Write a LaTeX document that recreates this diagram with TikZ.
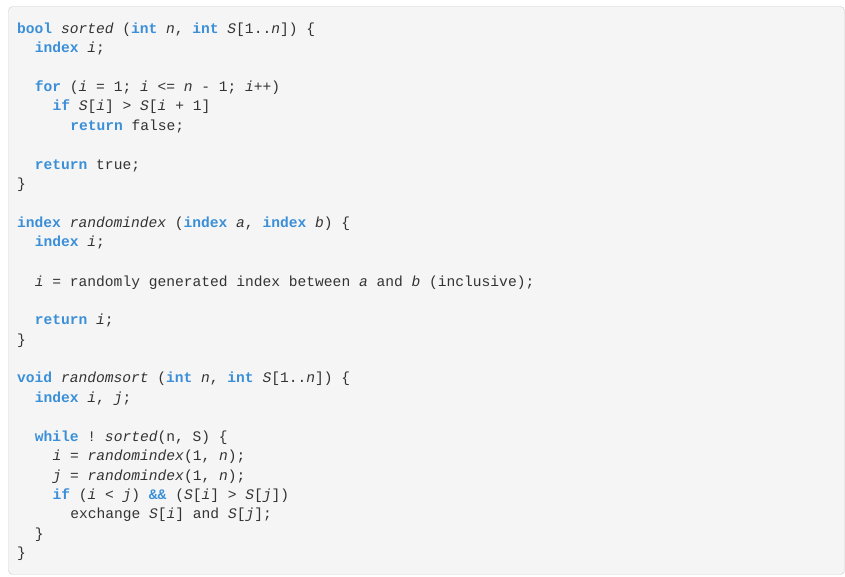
\documentclass[tikz,border=0pt]{standalone}
\usepackage{fontspec}
\setmonofont{Liberation Mono}
\definecolor{kwblue}{HTML}{3A8FD8}
\definecolor{codefg}{HTML}{333333}
\definecolor{boxbg}{HTML}{F5F5F5}
\definecolor{boxline}{HTML}{CCCCCC}
\newcommand{\kw}[1]{\textcolor{kwblue}{\bfseries #1}}
\newcommand{\vr}[1]{\textit{#1}}
\begin{document}
\begin{tikzpicture}[x=1pt,y=1pt,
  codeline/.style={anchor=base west, inner sep=0pt, text=codefg, font=\fontsize{14.6}{17}\ttfamily}]
\useasboundingbox (0,0) rectangle (845,577);
\draw[boxline, fill=boxbg, rounded corners=4pt] (8.5,2.5) rectangle (844.5,570.5);
\def\cw{8.85}
\newcommand{\cl}[4]{\node[codeline] (#1) at (17+#2*\cw, 577-#3-5) {#4};}
\cl{l1}{0}{29}{\kw{bool} \vr{sorted} (\kw{int} \vr{n}, \kw{int} \vr{S}[1..\vr{n}]) \{}
\cl{l2}{2}{48}{\kw{index} \vr{i};}
\cl{l4}{2}{87}{\kw{for} (\vr{i} = 1; \vr{i} <= \vr{n} - 1; \vr{i}++)}
\cl{l5}{4}{106}{\kw{if} \vr{S}[\vr{i}] > \vr{S}[\vr{i} + 1]}
\cl{l6}{6}{126}{\kw{return} false;}
\cl{l8}{2}{165}{\kw{return} true;}
\cl{l9}{0}{184}{\}}
\cl{l11}{0}{223}{\kw{index} \vr{randomindex} (\kw{index} \vr{a}, \kw{index} \vr{b}) \{}
\cl{l12}{2}{242}{\kw{index} \vr{i};}
\cl{l14}{2}{282}{\vr{i} = randomly generated index between \vr{a} and \vr{b} (inclusive);}
\cl{l16}{2}{320}{\kw{return} \vr{i};}
\cl{l17}{0}{340}{\}}
\cl{l19}{0}{378}{\kw{void} \vr{randomsort} (\kw{int} \vr{n}, \kw{int} \vr{S}[1..\vr{n}]) \{}
\cl{l20}{2}{398}{\kw{index} \vr{i}, \vr{j};}
\cl{l22}{2}{437}{\kw{while} ! \vr{sorted}(n, S) \{}
\cl{l23}{4}{456}{\vr{i} = \vr{randomindex}(1, \vr{n});}
\cl{l24}{4}{476}{\vr{j} = \vr{randomindex}(1, \vr{n});}
\cl{l25}{4}{495}{\kw{if} (\vr{i} < \vr{j}) \kw{\&\&} (\vr{S}[\vr{i}] > \vr{S}[\vr{j}])}
\cl{l26}{6}{514}{exchange \vr{S}[\vr{i}] and \vr{S}[\vr{j}];}
\cl{l27}{2}{534}{\}}
\cl{l28}{0}{553}{\}}
\end{tikzpicture}
\end{document}
